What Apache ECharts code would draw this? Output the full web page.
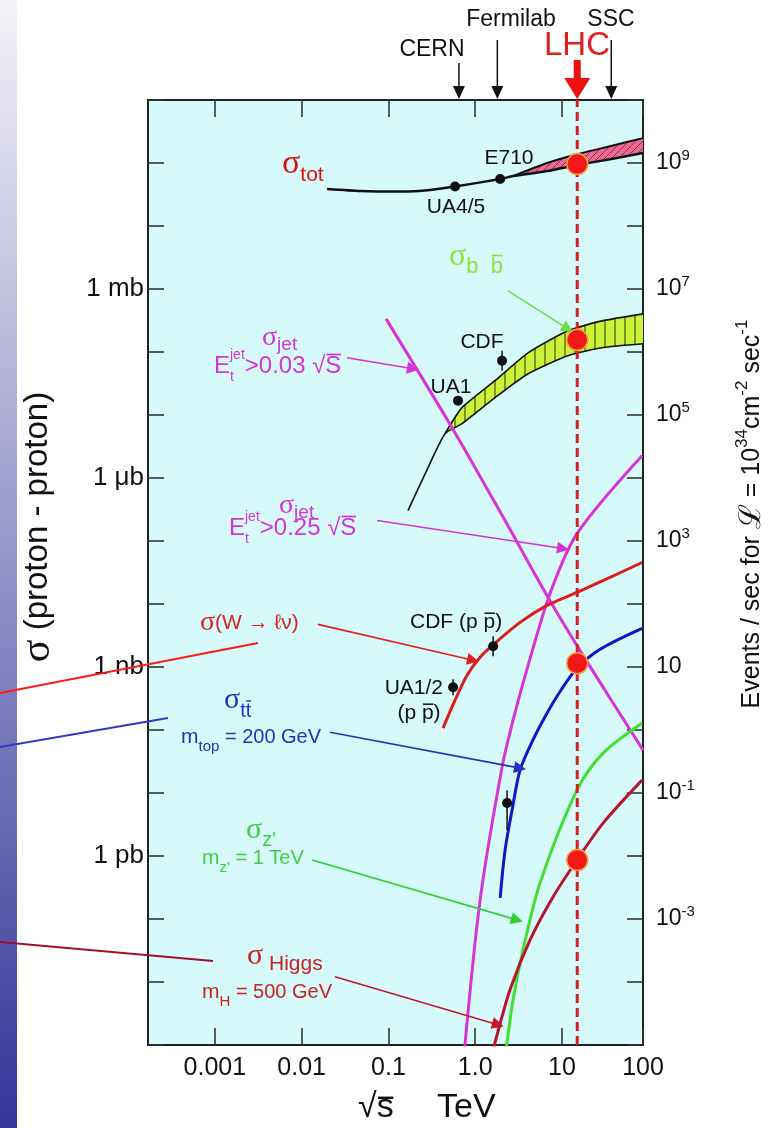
<!DOCTYPE html>
<html><head><meta charset="utf-8">
<script src="https://cdn.jsdelivr.net/npm/echarts@6/dist/echarts.min.js"></script>
<style>html,body{margin:0;padding:0;background:#fff}#c{width:769px;height:1128px}</style>
</head><body><div id="c"></div>
<script>
// ---------------- data (√s in TeV, σ in pb) ----------------
const xTickValues = [0.001, 0.01, 0.1, 1, 10, 100];
const xTickLabels = ['0.001', '0.01', '0.1', '1.0', '10', '100'];
const yLeftTickValues = [1, 1e3, 1e6, 1e9];
const yLeftTickLabels = ['1 pb', '1 nb', '1 μb', '1 mb'];
const yRightTickExps = [9, 7, 5, 3, 1, -1, -3];

const machines = ['CERN', 'Fermilab', 'LHC', 'SSC'];
const machineEnergy = [0.65, 1.8, 15, 37];

// σ_tot (single line, then lower edge of band) and band upper edge
const totE = [0.0196, 0.0471, 0.136, 0.302, 0.586, 1.94, 2.73, 6.73, 14.9, 35.8, 86];
const totLow = [3.86e10, 3.59e10, 3.52e10, 3.72e10, 4.23e10, 5.56e10, 6.2e10, 7.44e10, 9.27e10, 1.15e11, 1.44e11];
const totBandE = [2.73, 6.73, 14.9, 35.8, 86];
const totBandHigh = [6.2e10, 1.0e11, 1.38e11, 1.85e11, 2.48e11];
const totBandLow = [6.2e10, 7.44e10, 9.27e10, 1.15e11, 1.44e11];

// σ_bb̄
const bbTailE = [0.168, 0.286, 0.449];
const bbTail = [3.04e5, 1.46e6, 5.06e6];
const bbE = [0.449, 0.705, 1.69, 4.07, 11.7, 29.0, 86];
const bbHigh = [5.06e6, 1.31e7, 3.50e7, 9.71e7, 2.17e8, 3.12e8, 4.03e8];
const bbLow = [5.06e6, 7.28e6, 1.88e7, 4.51e7, 8.71e7, 1.17e8, 1.35e8];

// σ_jet, E_t > 0.03 √s
const jet03E = [0.0938, 0.541, 2.21, 6.92, 17.5, 49.3, 86];
const jet03 = [3.36e8, 6.29e6, 2.11e5, 1.27e4, 1.53e3, 160, 47.9];
// σ_jet, E_t > 0.25 √s
const jet25E = [0.753, 1.14, 2.04, 2.73, 4.07, 7.29, 14.9, 83.8];
const jet25 = [8.4e-4, 0.201, 25.7, 143, 1.06e3, 1.47e4, 1.31e5, 2.26e6];
// σ(W → ℓν)
const wE = [0.426, 0.586, 0.806, 1.14, 1.69, 3.29, 6.73, 14.9, 35.8, 83.8];
const wS = [107, 297, 739, 1.43e3, 2.38e3, 5.11e3, 9.5e3, 1.53e4, 2.64e4, 4.56e4];
// σ_tt̄ (m_top = 200 GeV)
const ttE = [1.94, 2.21, 2.66, 3.29, 4.62, 6.53, 9.72, 14.9, 27.5, 83.8];
const ttS = [0.216, 1.24, 5.36, 23.1, 68.9, 172, 427, 953, 1.91e3, 4.11e3];
// σ_Z' (m_Z' = 1 TeV)
const zpE = [2.27, 2.33, 2.73, 3.56, 5.59, 14.9, 29.8, 83.8];
const zpS = [7.8e-4, 1.09e-3, 5.22e-3, 0.0324, 0.373, 11.1, 42.9, 128];
// σ_Higgs (m_H = 500 GeV)
const hE = [1.59, 1.69, 2.52, 4.29, 7.89, 14.9, 29.8, 83.8];
const hS = [7.8e-4, 1.09e-3, 7.52e-3, 0.0467, 0.224, 0.864, 3.33, 16.0];

// measured points
const ptNames = ['UA4/5', 'E710', 'UA1', 'CDF', 'CDF (pp̄)', 'UA1/2', 'tt̄'];
const ptE = [0.586, 1.94, 0.634, 2.04, 1.61, 0.556, 2.33];
const ptS = [4.23e10, 5.56e10, 1.69e7, 7.26e7, 2.13e3, 477, 6.92];
const ptLo = [4.23e10, 5.56e10, 1.69e7, 5.04e7, 1.48e3, 356, 2.58];
const ptHi = [4.23e10, 5.56e10, 1.69e7, 1.05e8, 3.07e3, 638, 11.1];

// LHC marks (σ_tot, σ_bb̄, σ_tt̄, σ_Higgs)
const lhcDotS = [9.6e10, 1.56e8, 1.15e3, 0.864];

// annotation arrows (from label to curve)
const arrowFromE = [2.39, 0.0333, 0.0740, 0.0154, 0.0212, 0.0132, 0.0242];
const arrowFromS = [9.33e8, 8.09e7, 2.11e5, 4.75e3, 92.3, 0.864, 0.0121];
const arrowToE = [11.7, 0.192, 10.3, 0.944, 3.29, 3.03, 1.83];
const arrowToS = [2.33e8, 5.42e7, 7.6e4, 1.28e3, 24.8, 0.0968, 2.1e-3];
const arrowColors = ['#6edc45', '#d633d6', '#d633d6', '#dd2222', '#2233bb', '#33cc33', '#c0182c'];

// ---------------- chart ----------------
const L = Math.log10;
const X_MIN = -3.771, X_MAX = 1.934, Y_MIN = -3, Y_MAX = 12, EVT_SHIFT = -2;
const FONT = 'Liberation Sans';
const clampX = v => Math.min(L(v), X_MAX);
const pts = (Es, Ss) => Es.map((e, i) => [L(e), L(Ss[i])]);

function hatch(bg, stroke, dir, n) {
  const c = document.createElement('canvas'); c.width = n; c.height = n;
  const g = c.getContext('2d'); g.fillStyle = bg; g.fillRect(0, 0, n, n);
  g.strokeStyle = stroke; g.lineWidth = 1; g.beginPath();
  if (dir === 'v') { g.moveTo(n / 2, 0); g.lineTo(n / 2, n); }
  else { g.moveTo(0, n); g.lineTo(n, 0); }
  g.stroke();
  return { image: c, repeat: 'repeat' };
}

function band(Es, hi, lo, fill) {
  return {
    type: 'custom', xAxisIndex: 0, yAxisIndex: 0, clip: true, silent: true, z: 3,
    data: [[L(Es[0]), L(hi[0])]],
    renderItem: (params, api) => {
      const up = Es.map((e, i) => api.coord([L(e), L(hi[i])]));
      const dn = Es.map((e, i) => api.coord([L(e), L(lo[i])])).reverse();
      return { type: 'polygon', shape: { points: up.concat(dn) }, style: { fill: fill, stroke: 'none' } };
    }
  };
}

function line(Es, Ss, color, width, extra) {
  return Object.assign({
    type: 'line', xAxisIndex: 0, yAxisIndex: 0, data: pts(Es, Ss), symbol: 'none',
    smooth: 0.3, clip: true, silent: true, z: 5, lineStyle: { color: color, width: width }
  }, extra || {});
}

const LHC_E = machineEnergy[2];

const series = [
  band(totBandE, totBandHigh, totBandLow, hatch('#ea6a92', '#9a3050', 'd', 7)),
  line(totE, totLow, '#111', 2.5, { smooth: 0.2 }),
  line(totBandE, totBandHigh, '#111', 2, { smooth: 0.2 }),
  band(bbE, bbHigh, bbLow, hatch('#ccf23a', '#2a3a10', 'v', 10)),
  line(bbTailE.concat(bbE.slice(1)), bbTail.concat(bbLow.slice(1)), '#111', 1.6, { smooth: 0.2 }),
  line(bbE, bbHigh, '#111', 1.6, { smooth: 0.2 }),
  line(jet03E, jet03, '#d833d8', 3),
  line(jet25E, jet25, '#d833d8', 3),
  line(wE, wS, '#dd1c1c', 3),
  line(ttE, ttS, '#1515c4', 3),
  line(zpE, zpS, '#44dd33', 3),
  line(hE, hS, '#b8152e', 3),
  { // LHC dashed line
    type: 'line', xAxisIndex: 0, yAxisIndex: 0, symbol: 'none', silent: true, z: 6,
    data: [[L(LHC_E), Y_MIN], [L(LHC_E), Y_MAX]],
    lineStyle: { color: '#d42020', width: 3, type: [9, 5] }
  },
  { // error bars
    type: 'custom', xAxisIndex: 0, yAxisIndex: 0, silent: true, z: 7,
    data: ptE.map((e, i) => [L(e), L(ptS[i]), L(ptLo[i]), L(ptHi[i])]),
    renderItem: (p, api) => {
      const a = api.coord([api.value(0), api.value(2)]);
      const b = api.coord([api.value(0), api.value(3)]);
      return { type: 'line', shape: { x1: a[0], y1: a[1], x2: b[0], y2: b[1] }, style: { stroke: '#111', lineWidth: 1.5 } };
    }
  },
  {
    type: 'scatter', xAxisIndex: 0, yAxisIndex: 0, silent: true, z: 8,
    data: pts(ptE, ptS), symbolSize: 10, itemStyle: { color: '#111', opacity: 1 }
  },
  {
    type: 'scatter', xAxisIndex: 0, yAxisIndex: 0, silent: true, z: 9,
    data: lhcDotS.map(s => [L(LHC_E), L(s)]), symbolSize: 21,
    itemStyle: { color: '#f01818', borderColor: '#f2a040', borderWidth: 1.5, opacity: 1 }
  },
  {
    type: 'lines', coordinateSystem: 'cartesian2d', xAxisIndex: 0, yAxisIndex: 0, silent: true, z: 10,
    symbol: ['none', 'triangle'], symbolSize: 12,
    data: arrowFromE.map((e, i) => ({
      coords: [[L(e), L(arrowFromS[i])], [L(arrowToE[i]), L(arrowToS[i])]],
      lineStyle: { color: arrowColors[i], width: 1.6, opacity: 1, curveness: 0 }
    }))
  }
];

const xAxisCommon = {
  type: 'value', min: X_MIN, max: X_MAX, gridIndex: 0,
  axisLine: { show: false, onZero: false }, splitLine: { show: false },
  axisTick: { show: true, inside: true, length: 17, customValues: xTickValues.map(clampX), lineStyle: { color: '#333', width: 1.6 } }
};
const yTick = { inside: true, length: 16, lineStyle: { color: '#333', width: 1.6 } };

const option = {
  animation: false,
  backgroundColor: '#ffffff',
  grid: { left: 148, top: 100, width: 495, height: 945, show: true, backgroundColor: '#d6f9fa',
          borderColor: '#222', borderWidth: 2, containLabel: false, outerBoundsMode: 'none' },
  xAxis: [
    Object.assign({}, xAxisCommon, {
      position: 'bottom',
      axisLabel: {
        show: true, customValues: xTickValues.map(clampX), margin: 11,
        fontSize: 25, fontFamily: FONT, color: '#111',
        formatter: v => { const i = xTickValues.findIndex(t => Math.abs(clampX(t) - v) < 1e-6); return i >= 0 ? xTickLabels[i] : ''; }
      }
    }),
    Object.assign({}, xAxisCommon, { position: 'top', axisLabel: { show: false } })
  ],
  yAxis: [
    {
      type: 'value', min: Y_MIN, max: Y_MAX, interval: 1, position: 'left',
      axisLine: { show: false, onZero: false }, splitLine: { show: false }, axisTick: yTick,
      axisLabel: {
        margin: 4, fontSize: 26, fontFamily: FONT, color: '#111',
        formatter: v => { const i = yLeftTickValues.findIndex(t => Math.abs(L(t) - v) < 1e-6); return i >= 0 ? yLeftTickLabels[i] : ''; }
      }
    },
    {
      type: 'value', min: Y_MIN + EVT_SHIFT, max: Y_MAX + EVT_SHIFT, interval: 1, position: 'right',
      axisLine: { show: false, onZero: false }, splitLine: { show: false }, axisTick: yTick,
      axisLabel: {
        margin: 13, color: '#111',
        formatter: v => {
          const e = Math.round(v);
          if (yRightTickExps.indexOf(e) < 0 || Math.abs(v - e) > 1e-6) return '';
          return e === 1 ? '{b|10}' : '{b|10}{s|' + e + '}';
        },
        rich: {
          b: { fontSize: 23, fontFamily: FONT, color: '#111' },
          s: { fontSize: 15, fontFamily: FONT, color: '#111', padding: [0, 0, 14, 0] }
        }
      }
    }
  ],
  series: series
};

const chart = echarts.init(document.getElementById('c'), null, { renderer: 'canvas' });
chart.setOption(option);

// ---------------- annotations ----------------
const mctx = document.createElement('canvas').getContext('2d');
function lab(x, y, parts, color, o) {
  o = o || {};
  const kids = []; let cur = 0;
  parts.forEach(p => {
    const t = p[0], s = p[1], dy = p[2] || 0, f = p[3] || {};
    const fam = f.serif ? 'Liberation Serif' : FONT;
    mctx.font = s + 'px "' + fam + '"';
    const w = mctx.measureText(t).width;
    kids.push({ type: 'text', x: cur, y: dy, z: 100,
      style: { text: t, fontSize: s, fontFamily: fam, fill: color, align: 'left', verticalAlign: 'middle' } });
    if (f.ov) kids.push({ type: 'line', z: 100,
      shape: { x1: cur + w * 0.08, y1: dy - s * f.ov, x2: cur + w * 0.98, y2: dy - s * f.ov },
      style: { stroke: color, lineWidth: Math.max(1.3, s / 14) } });
    if (!f.noadv) cur += w;
  });
  const off = o.align === 'center' ? -cur / 2 : o.align === 'right' ? -cur : 0;
  kids.forEach(k => { if (k.type === 'text') k.x += off; else { k.shape.x1 += off; k.shape.x2 += off; } });
  return { type: 'group', x: x, y: y, rotation: o.rot || 0, z: 100, children: kids };
}
const S = { serif: true };
const MAG = '#d633d6';

const g = [];
// left decorative gradient strip
g.push({ type: 'rect', z: 100, shape: { x: 0, y: 0, width: 17, height: 1128 },
  style: { fill: { type: 'linear', x: 0, y: 0, x2: 0, y2: 1, colorStops: [{ offset: 0, color: '#f3f3f8' }, { offset: 1, color: '#34349a' }] } } });
// decorative pointer lines from the slide margin
g.push({ type: 'line', z: 100, shape: { x1: 0, y1: 693, x2: 258, y2: 643 }, style: { stroke: '#ff1a1a', lineWidth: 2 } });
g.push({ type: 'line', z: 100, shape: { x1: 0, y1: 747, x2: 168, y2: 718 }, style: { stroke: '#3535c8', lineWidth: 2 } });
g.push({ type: 'line', z: 100, shape: { x1: 0, y1: 942, x2: 213, y2: 961 }, style: { stroke: '#a0102a', lineWidth: 2 } });

// machine arrows above the frame
const plotTop = chart.convertToPixel({ yAxisIndex: 0 }, Y_MAX);
const arrowTopY = [63, 40, 60, 40];
machines.forEach((m, i) => {
  const x = chart.convertToPixel({ xAxisIndex: 0 }, L(machineEnergy[i]));
  if (m === 'LHC') {
    g.push({ type: 'rect', z: 100, shape: { x: x - 3.5, y: arrowTopY[i], width: 7, height: 20 }, style: { fill: '#ee1111' } });
    g.push({ type: 'polygon', z: 100, shape: { points: [[x - 13, 78], [x + 13, 78], [x, plotTop - 1]] }, style: { fill: '#ee1111' } });
  } else {
    g.push({ type: 'line', z: 100, shape: { x1: x, y1: arrowTopY[i], x2: x, y2: 88 }, style: { stroke: '#111', lineWidth: 1.5 } });
    g.push({ type: 'polygon', z: 100, shape: { points: [[x - 6, 86], [x + 6, 86], [x, plotTop - 1]] }, style: { fill: '#111' } });
  }
});
g.push(lab(432, 50, [['CERN', 23]], '#111', { align: 'center' }));
g.push(lab(511, 20, [['Fermilab', 23]], '#111', { align: 'center' }));
g.push(lab(611, 20, [['SSC', 23]], '#111', { align: 'center' }));
g.push(lab(577, 46, [['LHC', 33]], '#e02020', { align: 'center' }));

// curve labels
g.push(lab(282, 164, [['σ', 34, 0, S], ['tot', 21, 11]], '#dd1111'));
g.push(lab(509, 158, [['E710', 21]], '#111', { align: 'center' }));
g.push(lab(456, 207, [['UA4/5', 21]], '#111', { align: 'center' }));
g.push(lab(449, 257, [['σ', 32, 0, S], ['b', 22, 10], ['  ', 22, 10], ['b', 22, 10, { ov: 0.52 }]], '#8fe03a'));
g.push(lab(482, 342, [['CDF', 21]], '#111', { align: 'center' }));
g.push(lab(451, 387, [['UA1', 21]], '#111', { align: 'center' }));

g.push(lab(262, 338, [['σ', 28, 0, S], ['jet', 19, 7]], MAG));
g.push(lab(214, 366, [['E', 24], ['t', 14, 11, { noadv: true }], ['jet', 14, -11], ['>0.03 ', 24], ['√', 24], ['S', 24, 0, { ov: 0.48 }]], MAG));
g.push(lab(279, 506, [['σ', 28, 0, S], ['jet', 19, 7]], MAG));
g.push(lab(229, 528, [['E', 24], ['t', 14, 11, { noadv: true }], ['jet', 14, -11], ['>0.25 ', 24], ['√', 24], ['S', 24, 0, { ov: 0.48 }]], MAG));

g.push(lab(200, 623, [['σ', 28, 0, S], ['(W ', 21], ['→', 21], [' ℓν)', 21]], '#dd2222'));
g.push(lab(410, 622, [['CDF (p ', 21], ['p', 21, 0, { ov: 0.42 }], [')', 21]], '#111'));
g.push(lab(443, 688, [['UA1/2', 21]], '#111', { align: 'right' }));
g.push(lab(419, 713, [['(p ', 21], ['p', 21, 0, { ov: 0.42 }], [')', 21]], '#111', { align: 'center' }));

g.push(lab(224, 700, [['σ', 30, 0, S], ['t', 20, 11], ['t', 20, 11, { ov: 0.5 }]], '#2233bb'));
g.push(lab(181, 737, [['m', 21], ['top', 15, 10], [' = 200 GeV', 20]], '#2233bb'));
g.push(lab(246, 830, [['σ', 30, 0, S], ["z'", 20, 10]], '#44cc44'));
g.push(lab(202, 858, [['m', 21], ["z'", 15, 10], [' = 1 TeV', 20]], '#44cc44'));
g.push(lab(247, 956, [['σ', 30, 0, S], [' Higgs', 21, 8]], '#cc2222'));
g.push(lab(202, 992, [['m', 21], ['H', 15, 10], [' = 500 GeV', 20]], '#cc2222'));

// axis titles
g.push(lab(38, 527, [['σ', 42, 0, S], [' (proton - proton)', 33]], '#111', { align: 'center', rot: Math.PI / 2 }));
g.push(lab(752, 514, [['Events / sec for ', 25], ['ℒ', 30, 0, S], [' = 10', 25], ['34', 17, -10], ['cm', 25], ['-2', 17, -10], [' sec', 25], ['-1', 17, -10]], '#111', { align: 'center', rot: Math.PI / 2 }));
g.push(lab(358, 1108, [['√', 34], ['s', 34, 0, { ov: 0.3 }]], '#111'));
g.push(lab(437, 1108, [['TeV', 34]], '#111'));

chart.setOption({ graphic: { elements: g } });
</script>
</body></html>
